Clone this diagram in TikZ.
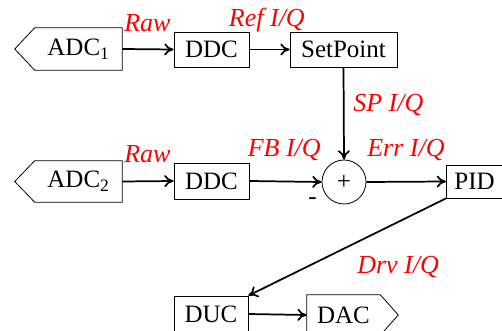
\documentclass[tikz,border=0pt]{standalone}
\usepackage{fontspec}
\setmainfont{Liberation Serif}
\usepackage{tikz}
\usetikzlibrary{arrows.meta}

\begin{document}
\begin{tikzpicture}[x=0.75pt,y=0.75pt,yscale=-1,xscale=1,
  blk/.style={draw,line width=0.6pt,inner sep=0pt,font=\fontsize{18.75}{22}\selectfont},
  sig/.style={inner sep=0pt,font=\fontsize{18.75}{22}\selectfont},
  lbl/.style={red,inner sep=0pt,font=\fontsize{19.5}{23}\selectfont\itshape},
  flow/.style={-{To[length=7pt,width=9pt]},line width=1.3pt}]
\useasboundingbox (0,0) rectangle (502,331);
\clip (0,0) rectangle (502,331);

%Blocks
\node [sig,minimum width=65.25pt,minimum height=31.5pt] (adcA) at (78.5,49) {ADC\textsubscript{1}};
\node [blk,minimum width=56.25pt,minimum height=26.25pt] (ddcA) at (211.5,49.5) {DDC};
\node [blk,minimum width=80.25pt,minimum height=26.25pt] (setpt) at (343.5,49.5) {SetPoint};
\node [draw,circle,line width=0.6pt,minimum size=33pt,inner sep=0pt,font=\fontsize{18.75}{22}\selectfont] (sum) at (344,182) {+};
\node [sig,minimum width=65.25pt,minimum height=30.75pt] (adcB) at (78.5,181.5) {ADC\textsubscript{2}};
\node [blk,minimum width=56.25pt,minimum height=27pt] (ddcB) at (211.5,181) {DDC};
\node [blk,minimum height=24.75pt,inner xsep=6pt,anchor=west] (pid) at (446,181.5) {PID};
\node [blk,minimum width=55.5pt,minimum height=27pt] (duc) at (211,314) {DUC};
\node [sig,minimum width=54.75pt,minimum height=30pt] (dac) at (343.5,315) {DAC};

%Pentagons
\draw [line width=0.6pt] (adcA.north east) -- (adcA.north west) -- ([xshift=-15pt]adcA.west) -- (adcA.south west) -- (adcA.south east) -- cycle;
\draw [line width=0.6pt] (adcB.north east) -- (adcB.north west) -- ([xshift=-15pt]adcB.west) -- (adcB.south west) -- (adcB.south east) -- cycle;
\draw [line width=0.6pt] (dac.north west) -- (dac.north east) -- ([xshift=13.5pt]dac.east) -- (dac.south east) -- (dac.south west) -- cycle;

%Connectors
\draw [flow] (adcA.east) -- (ddcA.west);
\draw [flow] (ddcA.east) -- (setpt.west);
\draw [flow] (setpt.south) -- (sum.north);
\draw [flow] (adcB.east) -- (ddcB.west);
\draw [flow] (ddcB.east) -- (sum.west);
\draw [flow] (sum.east) -- (pid.west);
\draw [flow] (pid.south west) -- (duc.north east);
\draw [flow] (duc.east) -- (dac.west);

% Text Node
\node [lbl,anchor=base west] (rawA) at (124,32) {Raw};
\node [lbl,anchor=base east] (refiq) at (305,27) {Ref I/Q};
\node [lbl,anchor=base west] (spiq) at (353,112) {SP I/Q};
\node [lbl,anchor=base west] (rawB) at (124,163) {Raw};
\node [lbl,anchor=base east] (fbiq) at (321,157) {FB I/Q};
\node [lbl,anchor=base west] (erriq) at (367,157) {Err I/Q};
\node [lbl,anchor=base west] (drviq) at (357,273) {Drv I/Q};
\node [inner sep=0pt,font=\fontsize{18.75}{22}\selectfont] (minus) at (312.5,201) {-};

\end{tikzpicture}
\end{document}
